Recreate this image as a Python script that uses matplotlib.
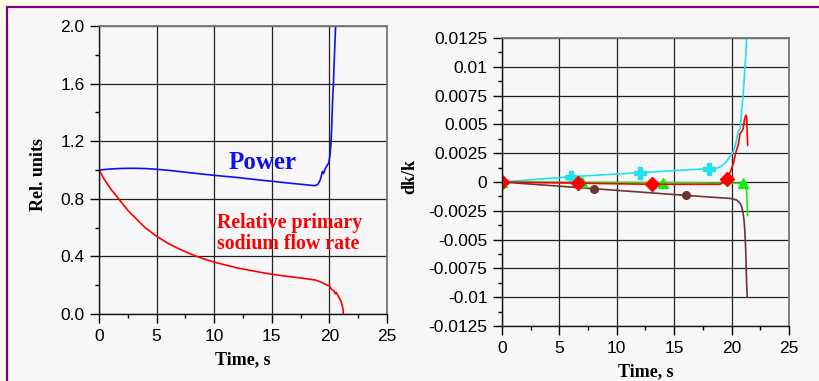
import numpy as np
import matplotlib
matplotlib.use("Agg")
import matplotlib.pyplot as plt
from matplotlib.patches import Rectangle

# left panel: relative power and primary sodium flow
power_t = [0, 1, 2, 3, 4, 5, 6, 8, 10, 12, 14, 15, 16, 17, 18, 18.75, 19.0, 19.2, 19.3,
           19.4, 19.5, 19.6, 19.7, 19.8, 19.94, 20.05, 20.14, 20.2, 20.28, 20.35, 20.4,
           20.47, 20.54, 20.6]
power_v = [1.0, 1.007, 1.011, 1.012, 1.01, 1.005, 0.998, 0.98, 0.963, 0.948, 0.93, 0.922,
           0.913, 0.905, 0.897, 0.891, 0.9, 0.93, 0.96, 0.99, 0.975, 1.0, 1.02, 1.03, 1.05,
           1.10, 1.19, 1.3, 1.49, 1.6, 1.72, 1.86, 2.0, 2.1]

flow_t = [0, 0.5, 1, 1.5, 2, 2.5, 3, 4, 5, 6, 7, 8, 9, 10, 11, 12, 13, 14, 15, 16, 17, 18,
          18.8, 19.3, 19.7, 20.0, 20.2, 20.4, 20.5, 20.6, 20.8, 21.0, 21.1, 21.2, 21.2]
flow_v = [1.0, 0.93, 0.87, 0.82, 0.77, 0.72, 0.68, 0.60, 0.54, 0.49, 0.45, 0.415, 0.385,
          0.36, 0.34, 0.32, 0.305, 0.29, 0.276, 0.265, 0.255, 0.245, 0.236, 0.22, 0.205,
          0.195, 0.17, 0.16, 0.14, 0.15, 0.12, 0.09, 0.06, 0.03, 0.0]

# right panel: reactivity components dk/k
cyan_t = [0, 6, 12, 18, 18.7, 19.0, 19.43, 19.86, 20.15, 20.4, 20.58, 20.75, 20.88, 21.0,
          21.08, 21.15, 21.23, 21.31]
cyan_v = [0, 0.00046, 0.00081, 0.00116, 0.0012, 0.0013, 0.00162, 0.0022, 0.00263, 0.0035,
          0.0044, 0.0046, 0.00625, 0.0075, 0.0086, 0.0098, 0.0109, 0.0125]

red_t = [0, 6.6, 13.04, 18.5, 19.0, 19.3, 19.57, 19.9, 20.15, 20.3, 20.44, 20.6, 20.73,
         20.9, 21.02, 21.1, 21.23, 21.31, 21.35, 21.4]
red_v = [0, -0.0001, -0.0002, -0.0002, -0.0002, 0.0, 0.0003, 0.0009, 0.0016, 0.0023,
         0.0028, 0.0033, 0.0042, 0.0044, 0.0047, 0.0053, 0.0058, 0.0056, 0.0045, 0.0032]

green_t = [0, 7, 14, 21, 21.3, 21.35, 21.4]
green_v = [0, -0.00003, -0.00005, -0.0001, -0.0006, -0.002, -0.0029]

brown_t = [0, 8, 16, 18, 19, 19.86, 20.44, 20.7, 20.88, 21.0, 21.08, 21.15, 21.23, 21.31,
           21.36]
brown_v = [0, -0.00058, -0.00116, -0.0013, -0.00137, -0.00142, -0.00156, -0.0018,
           -0.00214, -0.0027, -0.0033, -0.0042, -0.0059, -0.0088, -0.01]

x_ticks = [0, 5, 10, 15, 20, 25]
left_yticks = [0.0, 0.4, 0.8, 1.2, 1.6, 2.0]
left_ylabels = ["0.0", "0.4", "0.8", "1.2", "1.6", "2.0"]
right_yticks = [-0.0125, -0.01, -0.0075, -0.005, -0.0025, 0, 0.0025, 0.005, 0.0075, 0.01, 0.0125]
right_ylabels = ["-0.0125", "-0.01", "-0.0075", "-0.005", "-0.0025", "0", "0.0025", "0.005",
                 "0.0075", "0.01", "0.0125"]

W, H = 820, 381
fig = plt.figure(figsize=(W / 100, H / 100), dpi=100, facecolor="#FFFFE6")
fig.patches.append(Rectangle((7.5 / W, -0.1), 1.2, 1.1 - 7 / H, transform=fig.transFigure,
                             facecolor="#F7F7F7", edgecolor="#800080", lw=1.6, zorder=-5))

tick_font = {"family": "Liberation Sans", "size": 12.5}
label_font = {"family": "Liberation Serif", "weight": "bold", "size": 13}


def style(ax):
    ax.set_facecolor("#F7F7F7")
    ax.grid(True, which="major", color="#222222", lw=0.9)
    ax.set_axisbelow(True)
    for s in ["top", "right"]:
        ax.spines[s].set_color("#777777")
        ax.spines[s].set_linewidth(1.3)
    for s in ["left", "bottom"]:
        ax.spines[s].set_color("#111111")
        ax.spines[s].set_linewidth(1.0)
    ax.tick_params(which="major", direction="out", length=6.5, width=1, pad=4)
    ax.tick_params(which="minor", direction="out", length=3, width=1)
    ax.set_xlim(0, 25)
    ax.set_xticks(x_ticks)
    ax.set_xticks([2.5, 7.5, 12.5, 17.5, 22.5], minor=True)
    ax.set_xticklabels([str(v) for v in x_ticks], fontdict=tick_font)
    ax.set_xlabel("Time, s", fontdict=label_font)
    ax.xaxis.set_label_coords(0.5, -0.13)


# left panel
ax1 = fig.add_axes([99 / W, 1 - 314 / H, 288 / W, 288 / H])
style(ax1)
ax1.plot(power_t, power_v, color="#1010EE", lw=1.2, clip_on=True)
ax1.plot(flow_t, flow_v, color="#FF0000", lw=1.2)
ax1.set_ylim(0, 2.0)
ax1.set_yticks(left_yticks)
ax1.set_yticks([0.2, 0.6, 1.0, 1.4, 1.8], minor=True)
ax1.set_yticklabels(left_ylabels, fontdict=tick_font)
ax1.set_ylabel("Rel. units", fontdict=label_font)
ax1.yaxis.set_label_coords(-0.181, 0.486)
ax1.text(14.2, 1.05, "Power", color="#1010EE", ha="center", va="center",
         family="Liberation Serif", weight="bold", size=18)
ax1.text(10.2, 0.56, "Relative primary\nsodium flow rate", color="#FF0000", ha="left",
         va="center", family="Liberation Serif", weight="bold", size=14.3, linespacing=1.1)

# right panel
ax2 = fig.add_axes([502 / W, 1 - 326 / H, 287 / W, 288 / H])
style(ax2)
ax2.plot(cyan_t, cyan_v, color="#22E0EE", lw=1.2, marker="P", ms=8, markevery=[0, 1, 2, 3])
ax2.plot(brown_t, brown_v, color="#6B3535", lw=1.2, marker="o", ms=5.5, markevery=[0, 1, 2])
ax2.plot(green_t, green_v, color="#11EE11", lw=1.2, marker="^", ms=7, markevery=[0, 1, 2, 3])
ax2.plot(red_t, red_v, color="#FF0000", lw=1.2, marker="D", ms=7, markevery=[0, 1, 2, 6])
ax2.set_ylim(-0.0125, 0.0125)
ax2.set_yticks(right_yticks)
ax2.set_yticks(np.array(right_yticks[:-1]) + 0.00125, minor=True)
ax2.set_yticklabels(right_ylabels, fontdict=tick_font)
ax2.set_ylabel("dk/k", fontdict=label_font)
ax2.yaxis.set_label_coords(-0.293, 0.519)

fig.savefig("out.png", dpi=100, facecolor=fig.get_facecolor())
